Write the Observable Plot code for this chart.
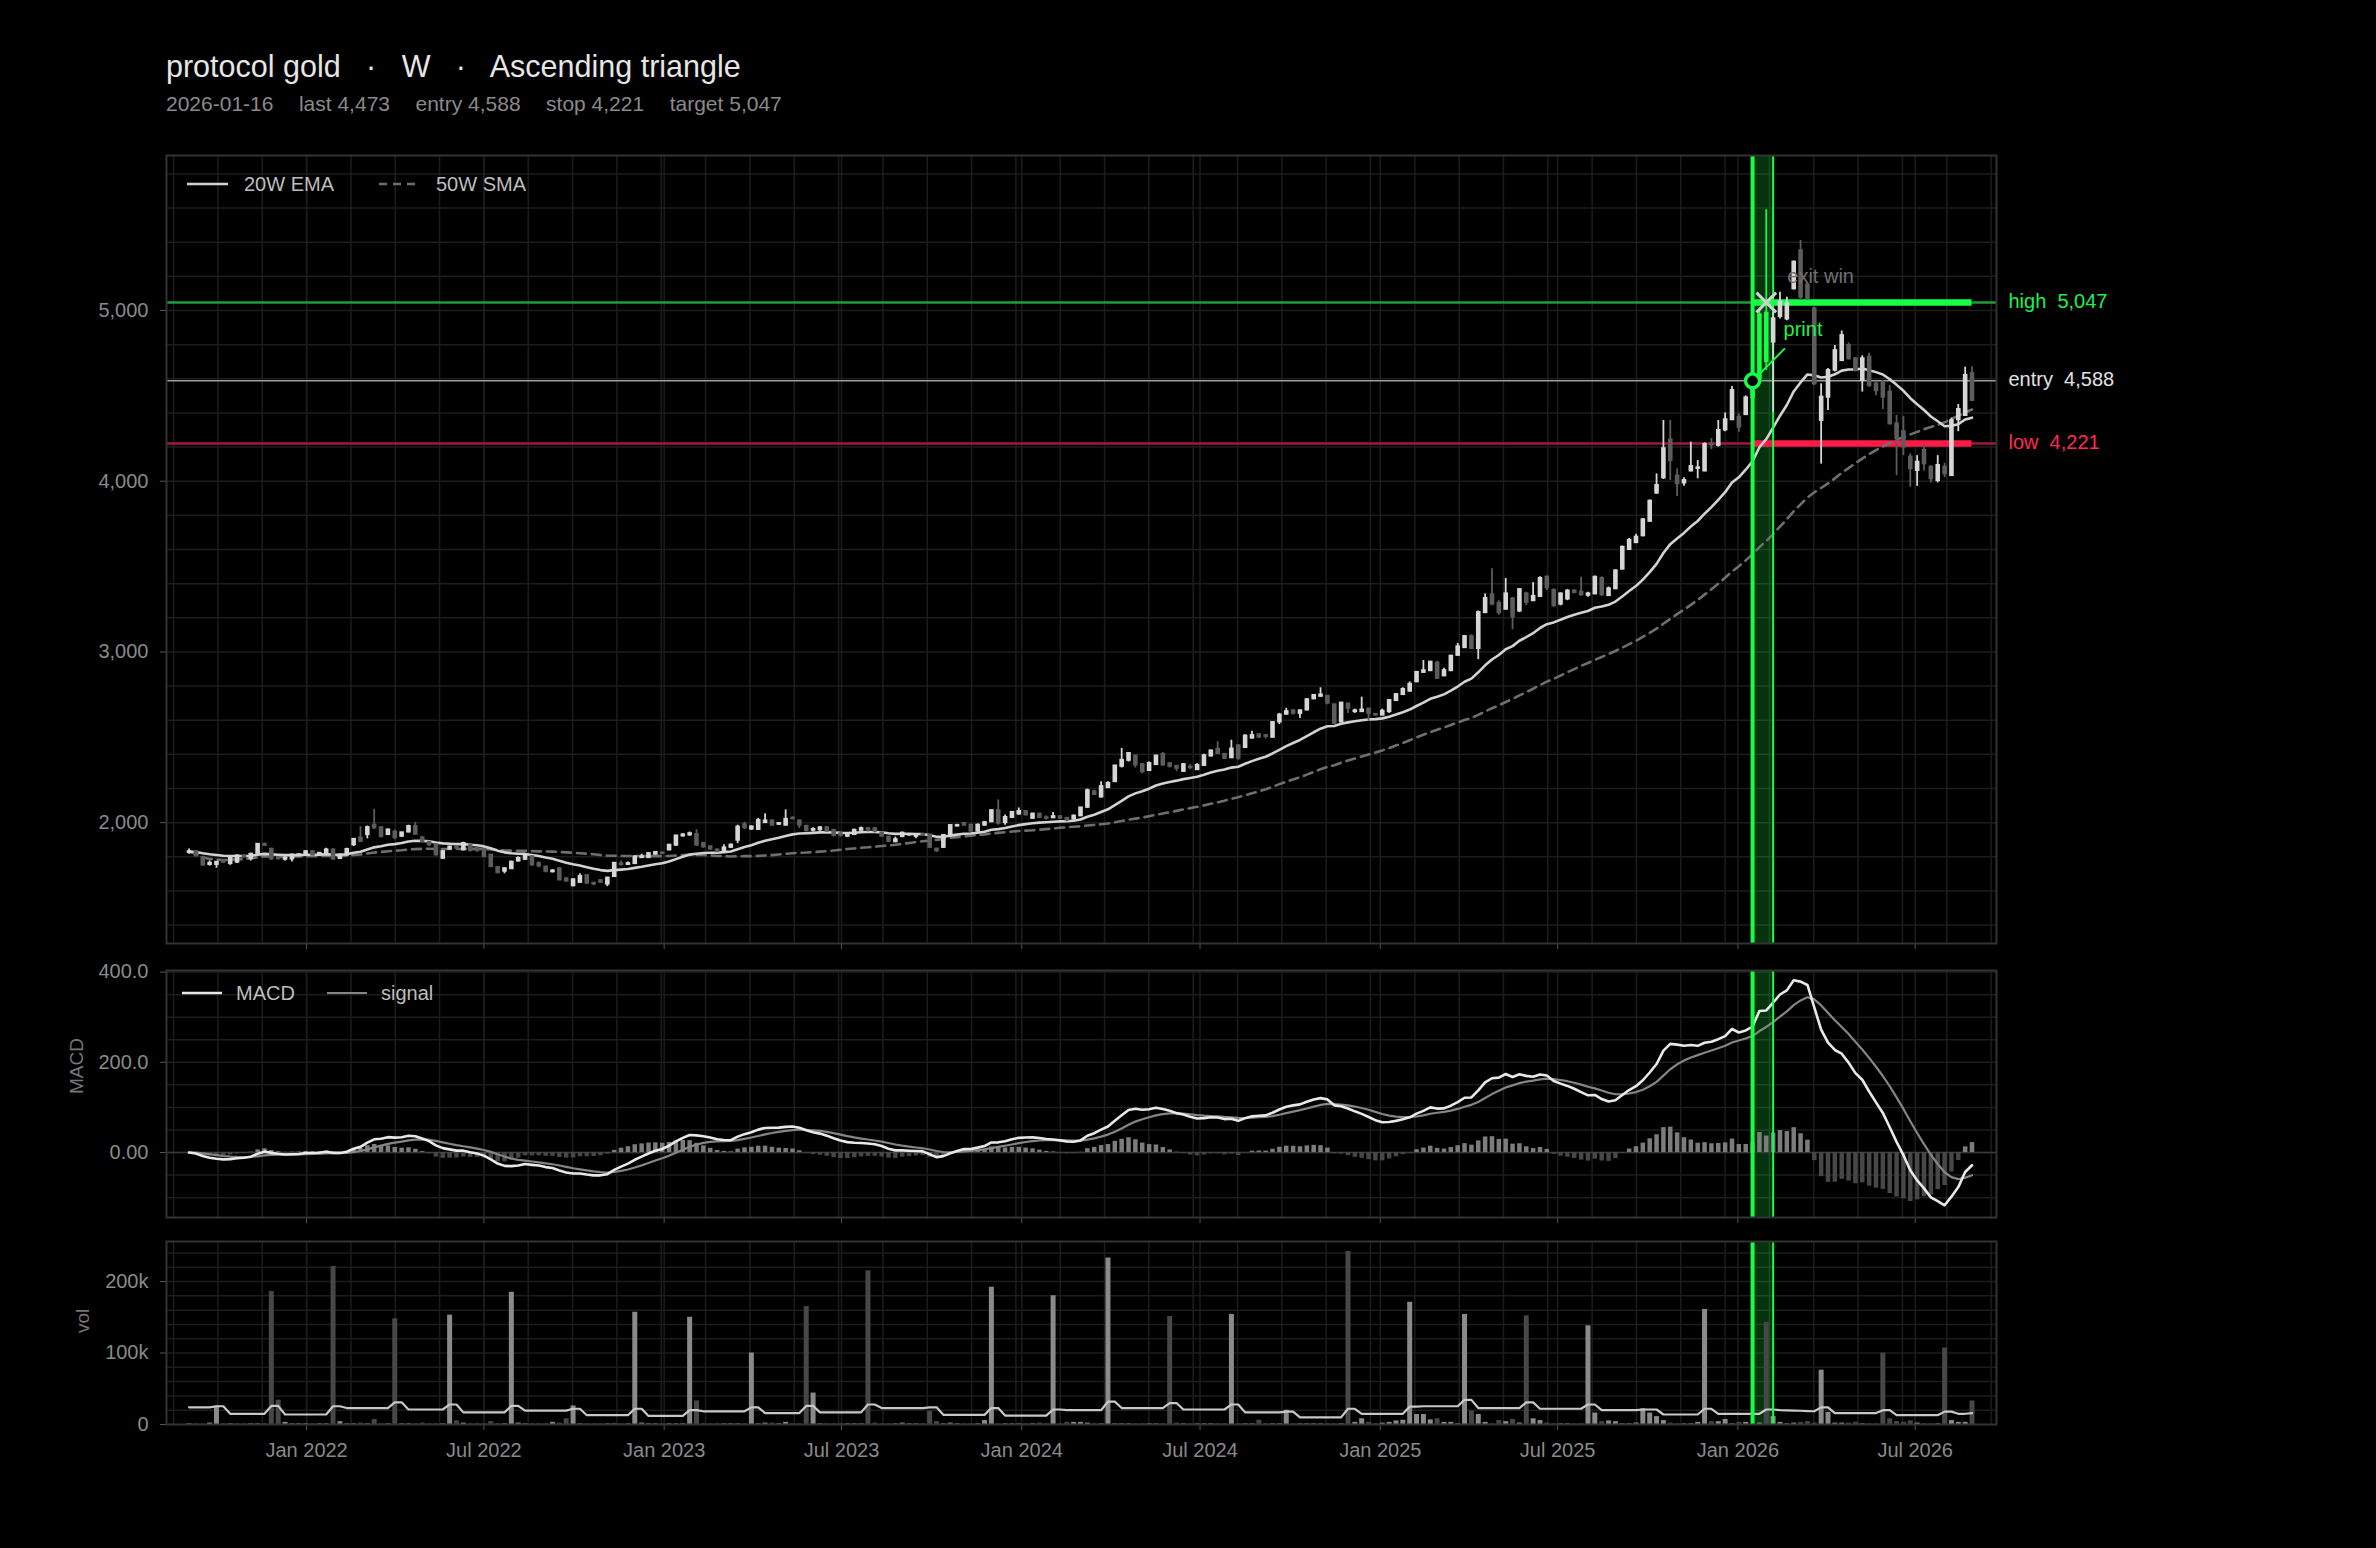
<!DOCTYPE html>
<html><head><meta charset="utf-8">
<script src="https://cdn.jsdelivr.net/npm/d3@7"></script>
<script src="https://cdn.jsdelivr.net/npm/@observablehq/plot@0.6"></script>
<style>
html,body{margin:0;padding:0;background:#000;}
#root{position:relative;width:2376px;height:1548px;background:#000;font-family:"Liberation Sans",Arial,Helvetica,sans-serif;overflow:hidden}
.title{position:absolute;left:166px;top:51px;font-size:30.5px;line-height:30px;color:#e6e6e6;white-space:pre}
.sub{position:absolute;left:166px;top:93px;font-size:21px;line-height:21px;color:#8a8a8a;white-space:pre;display:flex;gap:25.5px}
.panel{position:absolute;left:0}
.leg{position:absolute;font-size:20px;line-height:20px;color:#bdbdbd;white-space:pre}
.legsvg{position:absolute}
</style></head><body><div id="root"></div>
<script>
// ---------- data ----------
const symbol = "protocol gold", timeframe = "W", pattern = "Ascending triangle";
const firstWeek = "2021-09-03";
const signalDate = "2026-01-16";
const exitDate = "2026-01-30";
const windowEnd = "2026-02-06";
const entryLevel = 4588, stopLevel = 4221, targetLevel = 5047;
const xTickDates = ["2022-01-01","2022-07-01","2023-01-01","2023-07-01","2024-01-01","2024-07-01","2025-01-01","2025-07-01","2026-01-01","2026-07-01"];
const priceTicks = [2000, 3000, 4000, 5000];
const macdTicks = [0, 200, 400];
const volTicks = [0, 100, 200];

const O = [1825,1830,1797,1755,1755,1775,1760,1768,1805,1790,
1820,1873,1844,1792,1785,1787,1808,1815,1830,1812,
1820,1840,1790,1810,1870,1910,1930,1985,1970,1930,
1945,1920,1945,1977,1910,1885,1870,1791,1845,1855,
1840,1865,1850,1843,1810,1737,1715,1730,1775,1785,
1800,1760,1740,1712,1730,1670,1630,1650,1690,1645,
1660,1640,1684,1758,1755,1760,1795,1795,1815,1822,
1840,1868,1922,1928,1930,1878,1858,1840,1828,1855,
1897,1988,1962,1960,2000,2010,1990,1985,2025,2010,
1978,1955,1958,1970,1955,1935,1920,1930,1955,1965,
1965,1940,1915,1888,1918,1928,1920,1930,1928,1845,
1855,1925,1980,1995,1985,1950,1985,2005,2070,2000,
2030,2050,2065,2025,2050,2028,2028,2035,2025,2020,
2040,2090,2180,2150,2205,2240,2330,2365,2390,2340,
2305,2340,2400,2345,2330,2300,2325,2310,2335,2390,
2430,2400,2380,2450,2440,2495,2515,2510,2500,2590,
2635,2655,2640,2660,2725,2740,2740,2690,2590,2695,
2650,2650,2665,2634,2630,2650,2715,2750,2770,2825,
2880,2890,2935,2860,2890,2980,3025,3090,3020,3230,
3335,3285,3250,3310,3240,3340,3300,3325,3438,3360,
3280,3310,3356,3350,3332,3340,3430,3330,3370,3485,
3600,3640,3680,3765,3930,4020,4242,4030,3990,4060,
4075,4060,4218,4210,4300,4360,4375,4390,4490,4600,
4985,4815,4965,4950,5127,5350,5150,5010,4356,4492,
4650,4707,4795,4717,4590,4727,4570,4580,4522,4336,
4290,4141,4063,4180,4082,4004,4082,4033,4360,4385,
4630];
const H = [1845,1835,1800,1775,1770,1780,1795,1810,1812,1820,
1878,1880,1850,1798,1800,1815,1818,1835,1835,1826,
1850,1845,1815,1850,1905,1977,1980,2078,1975,1962,
1955,1945,1985,2002,1920,1890,1875,1835,1862,1860,
1885,1870,1855,1848,1812,1742,1735,1775,1800,1815,
1805,1770,1745,1725,1735,1680,1670,1700,1695,1650,
1665,1680,1765,1775,1770,1805,1815,1822,1830,1830,
1872,1925,1935,1945,1959,1885,1862,1845,1870,1875,
1985,2003,1980,2025,2052,2015,2000,2075,2035,2015,
1985,1970,1978,1978,1960,1940,1940,1962,1975,1970,
1970,1945,1920,1915,1945,1935,1935,1935,1932,1850,
1930,1988,1990,2000,1990,1992,2005,2075,2133,2045,
2065,2086,2070,2055,2055,2040,2060,2040,2030,2045,
2090,2197,2190,2240,2240,2335,2435,2410,2395,2345,
2355,2395,2410,2350,2335,2345,2340,2345,2400,2425,
2474,2405,2483,2455,2515,2535,2520,2515,2590,2640,
2670,2660,2660,2725,2750,2790,2745,2695,2705,2700,
2665,2735,2670,2640,2665,2720,2755,2790,2825,2885,
2950,2945,2945,2905,2980,3050,3095,3100,3240,3340,
3487,3300,3430,3320,3370,3350,3406,3440,3445,3370,
3345,3365,3365,3438,3350,3445,3440,3380,3480,3620,
3665,3690,3780,3890,4043,4356,4356,4072,4020,4229,
4121,4225,4250,4356,4400,4555,4395,4500,4610,5000,
5590,4990,5107,5078,5290,5410,5160,5020,4570,4660,
4795,4880,4810,4725,4735,4750,4580,4590,4560,4385,
4380,4160,4150,4220,4090,4150,4105,4370,4450,4668,
4670];
const L = [1815,1800,1745,1745,1733,1760,1750,1760,1795,1775,
1815,1860,1780,1782,1775,1770,1800,1810,1805,1805,
1815,1780,1785,1805,1860,1885,1905,1960,1910,1925,
1900,1915,1940,1925,1885,1860,1805,1785,1840,1840,
1835,1830,1828,1795,1738,1700,1700,1728,1770,1780,
1745,1735,1705,1705,1660,1650,1625,1645,1640,1630,
1645,1625,1680,1745,1750,1755,1790,1790,1810,1812,
1835,1860,1915,1920,1860,1850,1840,1825,1820,1848,
1877,1960,1955,1955,1995,1980,1985,1980,2018,1965,
1945,1945,1950,1945,1915,1915,1912,1925,1950,1945,
1940,1915,1885,1882,1912,1920,1905,1920,1850,1825,
1850,1920,1975,1980,1945,1945,1980,2000,1985,1985,
2025,2045,2040,2020,2025,2015,2025,2020,2005,2015,
2035,2085,2160,2145,2200,2235,2320,2355,2320,2285,
2300,2335,2330,2320,2299,2295,2310,2305,2330,2385,
2400,2370,2375,2365,2435,2490,2495,2490,2495,2575,
2630,2630,2610,2655,2720,2735,2690,2575,2585,2640,
2640,2645,2594,2625,2625,2640,2710,2745,2765,2820,
2875,2885,2840,2855,2885,2975,3020,3015,2955,3225,
3270,3215,3245,3130,3230,3270,3295,3320,3360,3260,
3270,3300,3340,3325,3320,3335,3325,3325,3365,3480,
3595,3635,3675,3760,3925,4010,4004,3910,3970,4055,
4014,4055,4185,4200,4290,4355,4287,4385,4480,4580,
4650,4404,4950,4940,5120,5060,5060,4560,4100,4414,
4640,4700,4710,4640,4522,4550,4500,4420,4330,4033,
4150,3965,3970,4060,3990,3990,4020,4030,4290,4380,
4470];
const C = [1830,1805,1752,1762,1768,1768,1790,1805,1800,1815,
1873,1866,1787,1788,1790,1810,1812,1830,1810,1820,
1840,1787,1810,1843,1902,1890,1971,1970,1918,1957,
1912,1940,1977,1932,1890,1870,1811,1830,1857,1850,
1878,1835,1835,1801,1742,1707,1730,1768,1790,1810,
1752,1746,1715,1717,1664,1658,1665,1684,1645,1640,
1650,1675,1762,1755,1760,1800,1800,1819,1825,1819,
1868,1922,1928,1935,1868,1858,1845,1830,1852,1868,
1974,1970,1975,2013,2010,1985,1995,2019,2022,1985,
1953,1960,1970,1950,1925,1925,1935,1955,1965,1960,
1950,1920,1890,1900,1938,1930,1930,1925,1855,1835,
1925,1983,1983,1985,1950,1985,2000,2070,1997,2030,
2060,2065,2045,2050,2030,2025,2035,2025,2015,2038,
2086,2187,2165,2211,2230,2332,2365,2405,2338,2299,
2346,2390,2338,2330,2318,2340,2322,2335,2392,2420,
2405,2376,2431,2377,2507,2510,2500,2505,2586,2630,
2650,2640,2655,2720,2745,2748,2700,2580,2700,2670,
2655,2660,2640,2630,2652,2715,2750,2780,2810,2880,
2890,2940,2845,2890,2975,3030,3090,3020,3230,3313,
3280,3230,3340,3205,3365,3290,3325,3430,3375,3272,
3340,3356,3348,3335,3340,3437,3335,3370,3475,3613,
3653,3672,3774,3883,3975,4190,4121,3985,4004,4086,
4078,4215,4212,4297,4360,4531,4317,4488,4590,4975,
4700,4951,5050,5040,5283,5078,5070,4570,4492,4648,
4765,4853,4717,4650,4717,4560,4530,4492,4336,4250,
4200,4073,4111,4102,4014,4092,4043,4355,4420,4620,
4473];
// weekly volume, thousands
const VOL = [1,1,0.5,2,25.5,1,1,0.5,1,1,
1,1,186,34,3,1,1,1,1,1,
1,221,4,1,1,2,1,7,1,1,
148,1,1,1,2,1,1,1,153,5,
2,1,1,1,4,1,1,185,2,1,
1,1,1,3,2,8,26,1,1,1,
1,1,1,1,1,157,2,1,1,1,
1,1,1,150,33,1,1,1,1,1,
1,1,100,1,2,2,1,3,1,1,
165,44,1,1,1,1,1,1,1,215,
2,1,1,1,2,1,1,1,18.5,4,
1,2,1,1,1,1,5.5,192,1,1,
1,1,1,1,2,1,180,1,3,3,
3,2,1,1,233,1,1,1,1,1,
1,1,1,151,2,1,1,1,1,1,
1,1,154,1,1,1,6,1,1,1,
20,1,1,1,1,1,1,1,1,242,
3,8,3,1,2,3,5,6,171,14,
14,6.5,8,3,3,1,154,19,14,3,
1,5.5,4,7,2,152,8,5.5,2,1,
1,1,1,1,138,16,4,5,4,1,
1,2,22,16,11,5.5,2,1,1,1,
3,161,4,4,7,1,3,3,1,2,
143,11,3,1,2,3,4,2,76,17,
2,2,2,3,1,1,1,100,8,4,
3,5,2,1,1,1,107,5.5,3,3,
33];
// volume average line, thousands
const VOLAVG = [24,24,24,24,25.5,25.5,15,15,15,15,
15,15,26,26,14,14,14,14,14,14,
14,25.5,25.5,23,23,23,23,23,23,23,
31,31,21,21,21,21,21,21,28,28,
17,17,17,17,17,17,17,26,26,19.5,
19.5,19.5,19.5,19.5,19.5,19.5,22,22,13,13,
13,13,13,13,13,22,22,12,12,12,
12,12,12,20,20,18.5,18.5,18.5,18.5,18.5,
18.5,18.5,24,24,16,16,16,16,16,16,
26,26,17,17,17,17,17,17,17,28,
28,23,23,23,23,23,23,23,24,24,
13.5,13.5,13.5,13.5,13.5,13.5,13.5,23,23,12.5,
12.5,12.5,12.5,12.5,12.5,12.5,21,21,20,20,
20,20,20,20,32,32,23,23,23,23,
23,23,23,30,30,21,21,21,21,21,
21,21,28,28,17,17,17,17,17,17,
18,18,10,10,10,10,10,10,10,22,
22,15,15,15,15,15,15,15,25,25,
25.5,25.5,25.5,25.5,25.5,25.5,34.5,34.5,23,23,
23,23,23,23,23,31,31,22,22,22,
22,22,22,22,28,28,20,20,20,20,
20,20,21,21,21,14,14,14,14,14,
14,22,22,15,15,15,15,15,15,15,
21,21,20,19.8,19.5,19.2,18.8,18.5,24,24,
16,16,16,16,16,16,16,20,20,13,
13,13,13,13,13,13,18,18,15,15,
16];

// ---------- derived ----------
const FONT = '"Liberation Sans", Arial, Helvetica, sans-serif';
const W = 2376;
const GREEN = "#14ff46", UP = "#d6d6d6", DOWN = "#5c5c5c", GRID = "#1d1d1d";
const parse = d3.utcParse("%Y-%m-%d");
const start = parse(firstWeek);
const dates = C.map((_, i) => d3.utcDay.offset(start, 7 * i));
const sigD = parse(signalDate), exitD = parse(exitDate), endD = parse(windowEnd);
const iSig = dates.findIndex(d => +d === +sigD), iExit = dates.findIndex(d => +d === +exitD);

function ema(arr, n) { const k = 2 / (n + 1); let e = arr[0]; return arr.map((v, i) => i === 0 ? e : (e = v * k + e * (1 - k))); }
function sma(arr, n) { return arr.map((_, i) => d3.mean(arr.slice(Math.max(0, i - n + 1), i + 1))); }
const ema20 = ema(C, 20), sma50 = sma(C, 50);
const e12 = ema(C, 12), e26 = ema(C, 26);
const macd = e12.map((v, i) => v - e26[i]);
const signal = ema(macd, 9);

const rows = dates.map((date, i) => ({
  date, o: O[i], h: H[i], l: L[i], c: C[i],
  top: Math.max(O[i], C[i]), bot: Math.min(O[i], C[i]),
  up: C[i] >= O[i], trade: i >= iSig && i <= iExit,
  ema: ema20[i], sma: sma50[i], macd: macd[i], signal: signal[i], hist: macd[i] - signal[i],
  vol: VOL[i], volAvg: VOLAVG[i]
}));
const lastDate = dates[dates.length - 1];
const xDomain = [d3.utcDay.offset(dates[0], -23), d3.utcDay.offset(lastDate, 25)];
const xTicks = xTickDates.map(parse);
const gridX = d3.range(-3, 40).map(k => new Date(Date.UTC(2022, 0, 1) + k * 45.25 * 864e5))
  .concat(xTicks).filter(d => d > xDomain[0] && d < xDomain[1]);
const candleColor = d => d.trade ? GREEN : d.up ? UP : DOWN;
const fmt = d3.format(",");

const band = [{x1: sigD, x2: endD}];

// ---------- layout ----------
const root = document.getElementById("root");
root.insertAdjacentHTML("beforeend",
  `<div class="title">${symbol}   ·   ${timeframe}   ·   ${pattern}</div>` +
  `<div class="sub"><span>${signalDate}</span><span>last ${fmt(C[C.length-1])}</span><span>entry ${fmt(entryLevel)}</span><span>stop ${fmt(stopLevel)}</span><span>target ${fmt(targetLevel)}</span></div>`);

function place(svg, top) { svg.classList.add("panel"); svg.style.top = top + "px"; root.appendChild(svg); }
const baseStyle = {background: "transparent", color: "#8a8a8a", fontFamily: FONT, fontSize: "20px", overflow: "visible"};

// main price panel
const yMain = [1292, 5908];
const main = Plot.plot({
  width: W, height: 860, marginTop: 55, marginBottom: 17, marginLeft: 166, marginRight: 380,
  style: baseStyle,
  x: {type: "utc", domain: xDomain},
  y: {domain: yMain},
  marks: [
    Plot.ruleY(d3.range(1400, 5801, 200), {stroke: GRID, strokeWidth: 1.5}),
    Plot.ruleX(gridX, {stroke: GRID, strokeWidth: 1.5}),
    Plot.rect(band, {x1: "x1", x2: "x2", y1: () => yMain[0], y2: () => yMain[1], fill: GREEN, fillOpacity: 0.2}),
    Plot.ruleY([targetLevel], {stroke: "#1c9d39", strokeWidth: 2.5}),
    Plot.ruleY([entryLevel], {stroke: "#9c9c9c", strokeWidth: 1.5}),
    Plot.ruleY([stopLevel], {stroke: "#a3173b", strokeWidth: 2.5}),
    Plot.ruleY([{y: targetLevel, x1: sigD, x2: lastDate}], {y: "y", x1: "x1", x2: "x2", stroke: GREEN, strokeWidth: 6.5}),
    Plot.ruleY([{y: stopLevel, x1: sigD, x2: lastDate}], {y: "y", x1: "x1", x2: "x2", stroke: "#ff1a48", strokeWidth: 6.5}),
    Plot.line(rows, {x: "date", y: "sma", stroke: "#6e6e6e", strokeWidth: 2.6, strokeDasharray: "9,6"}),
    Plot.line(rows, {x: "date", y: "ema", stroke: "#d2d2d2", strokeWidth: 2.6}),
    Plot.ruleX([sigD], {stroke: GREEN, strokeWidth: 4}),
    Plot.ruleX([endD], {stroke: GREEN, strokeWidth: 2}),
    Plot.ruleX(rows, {x: "date", y1: "h", y2: "l", stroke: candleColor, strokeWidth: 1.8}),
    Plot.ruleX(rows, {x: "date", y1: "top", y2: "bot", stroke: candleColor, strokeWidth: 4.6, insetTop: -1, insetBottom: -1}),
    Plot.link([{x1: sigD, y1: entryLevel, x2: d3.utcDay.offset(sigD, 33), y2: entryLevel + 190}], {x1: "x1", y1: "y1", x2: "x2", y2: "y2", stroke: GREEN, strokeWidth: 2}),
    Plot.dot([{x: sigD, y: entryLevel}], {x: "x", y: "y", r: 7, stroke: GREEN, strokeWidth: 3.5, fill: "#000"}),
    Plot.dot([{x: exitD, y: targetLevel}], {x: "x", y: "y", r: 9, symbol: "times", stroke: "#d0d0d0", strokeWidth: 3}),
    Plot.text([{x: exitD, y: targetLevel}], {x: "x", y: "y", text: () => "exit win", dx: 21, dy: -26, textAnchor: "start", fill: "#707070", fontSize: 20}),
    Plot.text([{x: sigD, y: entryLevel}], {x: "x", y: "y", text: () => "print", dx: 31, dy: -51, textAnchor: "start", fill: "#22f04a", fontSize: 20}),
    Plot.text([
      {y: targetLevel, t: "high\u00a0\u00a0" + fmt(targetLevel), c: "#22f04a"},
      {y: entryLevel, t: "entry\u00a0\u00a0" + fmt(entryLevel), c: "#e2e2e2"},
      {y: stopLevel, t: "low\u00a0\u00a0" + fmt(stopLevel), c: "#ff2a52"}
    ], {x: () => xDomain[1], y: "y", text: "t", fill: "c", dx: 12, dy: -1, textAnchor: "start", fontSize: 20}),
    Plot.axisY(priceTicks, {tickFormat: fmt, tickSize: 6, tickPadding: 12, label: null, stroke: "#555", fill: "#8a8a8a"}),
    Plot.axisX(xTicks, {tickFormat: () => "", tickSize: 6, label: null, stroke: "#555"}),
    Plot.frame({stroke: "#333", strokeWidth: 2})
  ]
});
place(main, 100);

// MACD panel
const yMacd = [-144, 403.5];
const macdPlot = Plot.plot({
  width: W, height: 280, marginTop: 15, marginBottom: 18, marginLeft: 166, marginRight: 380,
  style: baseStyle,
  x: {type: "utc", domain: xDomain},
  y: {domain: yMacd},
  marks: [
    Plot.ruleY(d3.range(-100, 401, 50), {stroke: GRID, strokeWidth: 1.5}),
    Plot.ruleX(gridX, {stroke: GRID, strokeWidth: 1.5}),
    Plot.rect(band, {x1: "x1", x2: "x2", y1: () => yMacd[0], y2: () => yMacd[1], fill: GREEN, fillOpacity: 0.2}),
    Plot.ruleY([0], {stroke: "#3a3a3a", strokeWidth: 1.5}),
    Plot.ruleX(rows, {x: "date", y1: 0, y2: "hist", stroke: d => d.hist >= 0 ? "#7c7c7c" : "#474747", strokeWidth: 4.5}),
    Plot.line(rows, {x: "date", y: "signal", stroke: "#858585", strokeWidth: 2.2}),
    Plot.line(rows, {x: "date", y: "macd", stroke: "#e8e8e8", strokeWidth: 2.6}),
    Plot.ruleX([sigD], {stroke: GREEN, strokeWidth: 4}),
    Plot.ruleX([endD], {stroke: GREEN, strokeWidth: 2}),
    Plot.text(["MACD"], {frameAnchor: "left", dx: -90, rotate: -90, fill: "#777", fontSize: 19}),
    Plot.axisY(macdTicks, {tickFormat: d => d === 0 ? "0.00" : d.toFixed(1), tickSize: 6, tickPadding: 12, label: null, stroke: "#555", fill: "#8a8a8a"}),
    Plot.axisX(xTicks, {tickFormat: () => "", tickSize: 6, label: null, stroke: "#555"}),
    Plot.frame({stroke: "#333", strokeWidth: 2})
  ]
});
place(macdPlot, 955);

// volume panel
const yVol = [0, 256];
const volPlot = Plot.plot({
  width: W, height: 260, marginTop: 11, marginBottom: 66, marginLeft: 166, marginRight: 380,
  style: baseStyle,
  x: {type: "utc", domain: xDomain},
  y: {domain: yVol},
  marks: [
    Plot.ruleY(d3.range(0, 241, 20), {stroke: GRID, strokeWidth: 1.5}),
    Plot.ruleX(gridX, {stroke: GRID, strokeWidth: 1.5}),
    Plot.rect(band, {x1: "x1", x2: "x2", y1: () => yVol[0], y2: () => yVol[1], fill: GREEN, fillOpacity: 0.2}),
    Plot.ruleX(rows, {x: "date", y1: 0, y2: "vol", stroke: d => d.up ? "#8a8a8a" : "#474747", strokeWidth: 5}),
    Plot.line(rows, {x: "date", y: "volAvg", stroke: "#c8c8c8", strokeWidth: 2.2}),
    Plot.ruleX([sigD], {stroke: GREEN, strokeWidth: 4}),
    Plot.ruleX([endD], {stroke: GREEN, strokeWidth: 2}),
    Plot.text(["vol"], {frameAnchor: "left", dx: -84, rotate: -90, fill: "#777", fontSize: 19}),
    Plot.axisY(volTicks, {tickFormat: d => d === 0 ? "0" : d + "k", tickSize: 6, tickPadding: 12, label: null, stroke: "#555", fill: "#8a8a8a"}),
    Plot.axisX(xTicks, {tickFormat: "%b %Y", tickSize: 6, tickPadding: 12, label: null, stroke: "#555", fill: "#8a8a8a"}),
    Plot.frame({stroke: "#333", strokeWidth: 2})
  ]
});
place(volPlot, 1230);

// legends
function legendItem(x1, x2, y, stroke, dash, width) {
  return `<svg class="legsvg" style="left:${x1}px;top:${y - 4}px" width="${x2 - x1}" height="8"><line x1="0" x2="${x2 - x1}" y1="4" y2="4" stroke="${stroke}" stroke-width="${width}" ${dash ? `stroke-dasharray="${dash}"` : ""}/></svg>`;
}
root.insertAdjacentHTML("beforeend",
  legendItem(187, 228, 184, "#d2d2d2", null, 2.6) + `<div class="leg" style="left:244px;top:174px">20W EMA</div>` +
  legendItem(379, 415, 184, "#6e6e6e", "8,6", 2.6) + `<div class="leg" style="left:436px;top:174px">50W SMA</div>` +
  legendItem(182, 222, 993, "#e8e8e8", null, 2.6) + `<div class="leg" style="left:236px;top:983px">MACD</div>` +
  legendItem(327, 367, 993, "#858585", null, 2.2) + `<div class="leg" style="left:381px;top:983px">signal</div>`);
</script></body></html>
